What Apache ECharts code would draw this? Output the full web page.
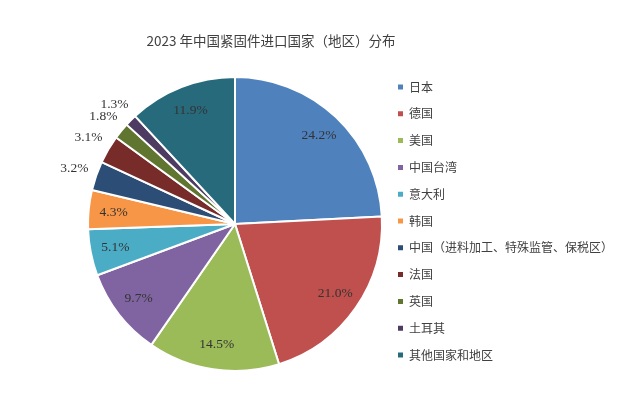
<!DOCTYPE html>
<html>
<head>
<meta charset="utf-8">
<script src="https://cdn.jsdelivr.net/npm/echarts@6/dist/echarts.min.js"></script>
<style>
html,body{margin:0;padding:0;background:#fff;}
#chart{width:640px;height:415px;}
</style>
</head>
<body>
<div id="chart"></div>
<script>
const titleText = '2023 年中国紧固件进口国家（地区）分布';
const categories = ['日本','德国','美国','中国台湾','意大利','韩国','中国（进料加工、特殊监管、保税区）','法国','英国','土耳其','其他国家和地区'];
const values = [24.2, 21.0, 14.5, 9.7, 5.1, 4.3, 3.2, 3.1, 1.8, 1.3, 11.9];
const colors = ['#4F81BD','#C0504D','#9BBB59','#8064A2','#4BACC6','#F79646','#2C4D75','#772C2A','#5F7530','#4D3B62','#276A7C'];

const CX = 235, CY = 224, R = 147;
const chart = echarts.init(document.getElementById('chart'), null, {renderer:'canvas'});
chart.setOption({
  backgroundColor: '#fff',
  animation: false,
  color: colors,
  title: {
    text: titleText,
    left: 266, top: 29, textAlign: 'center',
    textStyle: {fontFamily: 'Noto Sans CJK SC', fontSize: 13.5, fontWeight: 'normal', color: '#404040'}
  },
  legend: {
    orient: 'vertical',
    left: 391, top: 76,
    itemWidth: 7, itemHeight: 7,
    itemGap: 14.8,
    icon: 'rect',
    textStyle: {fontFamily: 'Noto Sans CJK SC', fontSize: 12, color: '#404040'},
    data: categories
  },
  series: [{
    type: 'pie',
    center: [CX, CY],
    radius: R,
    startAngle: 90,
    clockwise: true,
    silent: true,
    itemStyle: {borderColor: '#fff', borderWidth: 2},
    label: {
      show: true,
      position: 'inside',
      formatter: p => p.value.toFixed(1) + '%',
      fontFamily: 'Liberation Serif',
      fontSize: 13.5,
      color: '#333'
    },
    labelLine: {show: false},
    labelLayout: function (p) {
      const v = values[p.dataIndex];
      const lx = p.labelRect.x + p.labelRect.width / 2;
      const ly = p.labelRect.y + p.labelRect.height / 2;
      const dx = lx - CX, dy = ly - CY;
      const d = Math.hypot(dx, dy) || 1;
      const dist = v < 3.5 ? R + 23 : R * 0.83;
      return {x: CX + dx / d * dist, y: CY + dy / d * dist, align: 'center', verticalAlign: 'middle'};
    },
    data: categories.map((c, i) => ({name: c, value: values[i]}))
  }]
});
</script>
</body>
</html>
